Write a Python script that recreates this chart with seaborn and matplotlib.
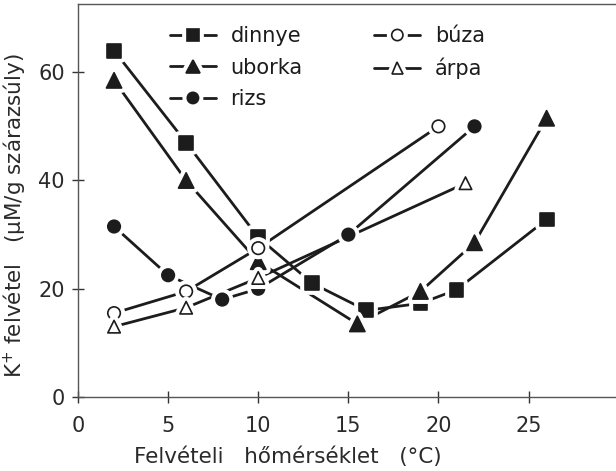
import matplotlib
matplotlib.use("Agg")
import matplotlib.pyplot as plt
import matplotlib.patheffects as pe
from matplotlib.lines import Line2D
import numpy as np
import pandas as pd
import seaborn as sns

# K+ uptake of seedlings vs. uptake temperature
dinnye_x = [2, 6, 10, 13, 16, 19, 21, 26]
dinnye_y = [64, 47, 29.5, 21, 16, 17.3, 19.8, 32.8]

uborka_x = [2, 6, 10, 15.5, 19, 22, 26]
uborka_y = [58.5, 40, 25, 13.5, 19.5, 28.5, 51.5]

rizs_x = [2, 5, 8, 10, 15, 22]
rizs_y = [31.5, 22.5, 18, 20, 30, 50]

buza_x = [2, 6, 10, 20]
buza_y = [15.5, 19.5, 27.5, 50]

arpa_x = [2, 6, 10, 21.5]
arpa_y = [13, 16.5, 22, 39.5]

x_ticks = [0, 5, 10, 15, 20, 25]
y_ticks = [0, 20, 40, 60]

sns.set_theme(style="white")
plt.rcParams["font.family"] = ["DejaVu Sans"]

ink = "#1c1c1c"
series = [
    ("dinnye", dinnye_x, dinnye_y, "s", ink, 10),
    ("uborka", uborka_x, uborka_y, "^", ink, 11),
    ("rizs", rizs_x, rizs_y, "o", ink, 9),
    ("búza", buza_x, buza_y, "o", "white", 9),
    ("árpa", arpa_x, arpa_y, "^", "white", 9),
]

fig = plt.figure(figsize=(6.16, 4.71), dpi=100)
ax = fig.add_axes([78 / 616, 74 / 471, 1 - 78 / 616, (471 - 74 - 3.5) / 471])

# white ring around each marker leaves a small gap where the line meets it
halo = [pe.withStroke(linewidth=7, foreground="white")]

for name, xs, ys, mk, face, ms in series:
    df = pd.DataFrame({"x": xs, "y": ys})
    sns.lineplot(data=df, x="x", y="y", ax=ax, sort=False, color=ink,
                 linewidth=2.0, estimator=None)
for name, xs, ys, mk, face, ms in series:
    df = pd.DataFrame({"x": xs, "y": ys})
    sc = sns.scatterplot(data=df, x="x", y="y", ax=ax, marker=mk, s=ms ** 2,
                         color=face, edgecolor=ink, linewidth=1.2, zorder=5)
    sc.collections[-1].set_path_effects(halo)

ax.set_xlim(0, 29.85)
ax.set_ylim(0, 72.7)
ax.set_xticks(x_ticks)
ax.set_yticks(y_ticks)
ax.tick_params(direction="inout", length=9, width=1, colors="#333333",
               labelsize=15, labelcolor="#2a2a2a", pad=5,
               bottom=True, left=True)
ax.tick_params(axis="x", pad=9)
for side in ["left", "bottom", "top"]:
    ax.spines[side].set_color("#555555")
    ax.spines[side].set_linewidth(1)
ax.spines["right"].set_visible(False)

ax.set_xlabel("Felvételi   hőmérséklet   (°C)", fontsize=15.5,
              color="#2a2a2a")
ax.xaxis.set_label_coords(0.39, -0.125)
ax.set_ylabel("K$^{+}$ felvétel   (µM/g szárazsúly)", fontsize=15.5,
              color="#2a2a2a")
ax.yaxis.set_label_coords(-0.093, 0.46)

handles = []
for name, xs, ys, mk, face, ms in series:
    h = Line2D([0], [0], color=ink, lw=2.0, marker=mk, markersize=ms * 0.9,
               markerfacecolor=face, markeredgecolor=ink, markeredgewidth=1.2,
               label=name)
    h.set_path_effects(halo)
    handles.append(h)

ax.legend(handles=handles, ncol=2, loc="upper left",
          bbox_to_anchor=(92 / 538, 0.942), frameon=False, fontsize=15,
          handlelength=2.2, handletextpad=0.7, columnspacing=3.45,
          labelspacing=0.55, borderpad=0, borderaxespad=0,
          labelcolor="#1c1c1c")

fig.savefig("out.png", dpi=100)
